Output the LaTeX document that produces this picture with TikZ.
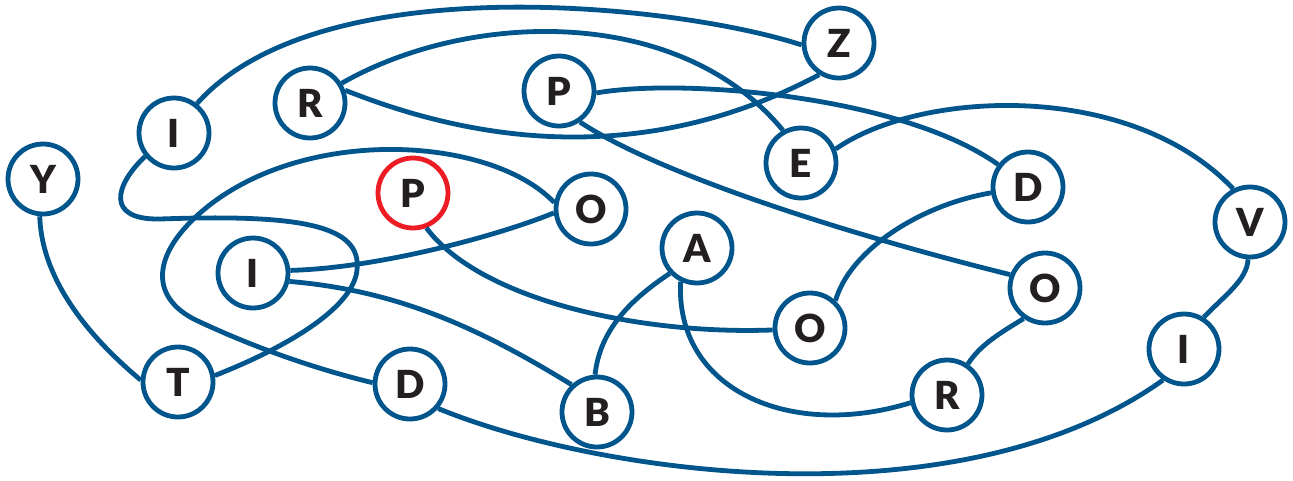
\documentclass[tikz,border=0pt]{standalone}
\usepackage{fontspec}
\setmainfont{Lato}[BoldFont={Lato Black}]
\definecolor{nodeblue}{HTML}{00558C}
\definecolor{hired}{HTML}{ED1C24}
\definecolor{txt}{HTML}{231F20}
\begin{document}
\begin{tikzpicture}[x=0.75pt,y=-0.75pt,
  vtx/.style={circle,draw=nodeblue,line width=3.6pt,minimum size=52.5pt,inner sep=0pt,
    font=\fontsize{29}{29}\selectfont\bfseries,text=txt},
  hl/.style={vtx,draw=hired},
  edge/.style={draw=nodeblue,line width=3.6pt}]
\useasboundingbox (0,0) rectangle (1293,480);
\fill[white] (0,0) rectangle (1293,480);
\node[vtx] (Y) at (43,179) {Y};
\node[vtx] (Itl) at (174,133) {I};
\node[vtx] (R) at (310,103) {R};
\node[vtx] (Pt) at (559,91) {P};
\node[vtx] (Z) at (839,43) {Z};
\node[vtx] (E) at (801,163) {E};
\node[vtx] (Dr) at (1028,187) {D};
\node[vtx] (V) at (1250,222) {V};
\node[hl] (Pr) at (413,193) {P};
\node[vtx] (Otm) at (591,209) {O};
\node[vtx] (Im) at (253,273) {I};
\node[vtx] (A) at (697,248) {A};
\node[vtx] (Or) at (1045,288) {O};
\node[vtx] (Om) at (810,328) {O};
\node[vtx] (Ir) at (1184,349) {I};
\node[vtx] (T) at (178,382) {T};
\node[vtx] (Db) at (410,384) {D};
\node[vtx] (B) at (597,412) {B};
\node[vtx] (Rb) at (947,395) {R};
\draw[edge] (Y.265) .. controls (42,290) and (105,350) .. (T.177);
\draw[edge] (Itl.52) .. controls (320,-35) and (680,5) .. (Z.183);
\draw[edge] (R.32) .. controls (470,10) and (680,5) .. (E.119);
\draw[edge] (R.20) .. controls (470,140) and (640,170) .. (Z.238);
\draw[edge] (Pt.-3) .. controls (680,78) and (900,95) .. (Dr.143);
\draw[edge] (Pt.-56) .. controls (660,175) and (850,235) .. (Or.159);
\draw[edge] (E.22) .. controls (920,90) and (1130,80) .. (V.117);
\draw[edge] (V.267) .. controls (1247,280) and (1225,295) .. (Ir.58);
\draw[edge] (Dr.189) .. controls (920,205) and (850,250) .. (Om.47);
\draw[edge] (Itl.219) .. controls (115,185) and (105,220) .. (160,219)
  .. controls (300,214) and (362,225) .. (357,270)
  .. controls (353,310) and (280,350) .. (T.10);
\draw[edge] (Otm.170) .. controls (490,135) and (300,125) .. (200,213)
  .. controls (150,257) and (150,300) .. (200,322)
  .. controls (260,350) and (320,370) .. (Db.178);
\draw[edge] (Im.4) .. controls (380,268) and (500,235) .. (Otm.186);
\draw[edge] (Im.-13) .. controls (390,290) and (470,322) .. (B.133);
\draw[edge] (Pr.-69) .. controls (480,300) and (640,335) .. (Om.183);
\draw[edge] (A.223) .. controls (630,300) and (600,330) .. (B.93);
\draw[edge] (A.244) .. controls (675,390) and (790,440) .. (Rb.192);
\draw[edge] (Or.235) .. controls (1000,333) and (980,345) .. (Rb.56);
\draw[edge] (Db.-41) .. controls (600,475) and (960,525) .. (Ir.236);
\end{tikzpicture}
\end{document}
